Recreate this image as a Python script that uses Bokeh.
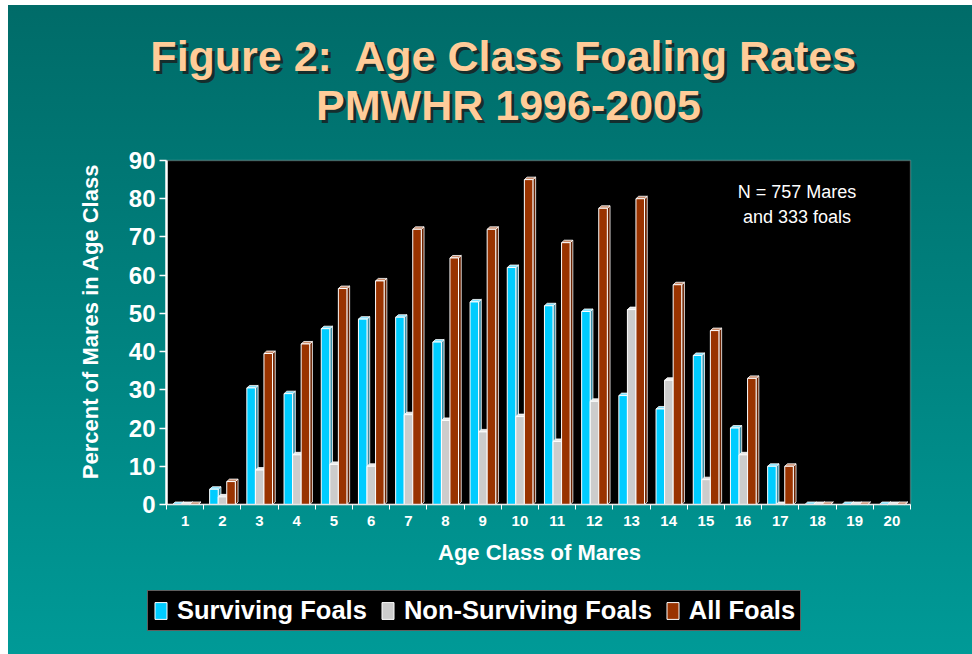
import math
import numpy as np
from bokeh.plotting import figure
from bokeh.models import (Label, Legend, LegendItem, FixedTicker, Range1d, BoxAnnotation)
from bokeh.embed import file_html
from bokeh.resources import INLINE

# ---------------- data ----------------
age_classes = list(range(1, 21))
tick_labels = [str(a) for a in age_classes]
surviving = [0, 4, 30.5, 29, 46, 48.5, 49, 42.5, 53, 62, 52, 50.5, 28.5, 25, 39, 20, 10, 0, 0, 0]
non_surviving = [0, 2, 9, 13, 10.5, 10, 23.5, 22, 19, 23, 16.5, 27, 51, 32.5, 6.5, 13, 0, 0, 0, 0]
all_foals = [0, 6, 39.5, 42, 56.5, 58.5, 72, 64.5, 72, 85, 68.5, 77.5, 80, 57.5, 45.5, 33, 10, 0, 0, 0]
series_names = ["Surviving Foals", "Non-Surviving Foals", "All Foals"]
y_ticks = list(range(0, 100, 10))
x_min, x_max = 0.5, 20.5
y_min, y_max = 0, 90

# ---------------- styles / layout ----------------
FONT = "Liberation Sans"
front_colors = ["#00ccff", "#cccccc", "#993300"]
side_colors = ["#3a8ea8", "#8a8a8a", "#6a2200"]
top_colors = ["#7fe3ff", "#e8e8e8", "#c98b6b"]
offsets = [-0.34, -0.11, 0.12]
W = 0.23     # front face width (x units)
DX = 0.073   # depth in x
DY = 0.65    # depth in y

FIG_W, FIG_H = 972, 654
# pixel box of the black plotting area inside the figure
PL, PR, PT, PB = 166, 910, 160, 504
sx = (PR - PL) / (x_max - x_min)
sy = (PB - PT) / (y_max - y_min)
xr = Range1d(x_min - PL / sx, x_max + (FIG_W - PR) / sx)
yr = Range1d(y_min - (FIG_H - PB) / sy, y_max + PT / sy)

p = figure(width=FIG_W, height=FIG_H, output_backend="svg", toolbar_location=None,
           x_range=xr, y_range=yr,
           min_border_left=0, min_border_right=0, min_border_top=0, min_border_bottom=0)
p.styles = {"background": "linear-gradient(#ffffff,#ffffff) 0 0/8px 100% no-repeat, "
                          "linear-gradient(#ffffff,#ffffff) 0 0/100% 5px no-repeat, "
                          "linear-gradient(to bottom, #006b68 0%, #00827f 50%, #009a97 100%)"}
p.border_fill_color = None
p.background_fill_color = None
p.outline_line_color = None
p.xgrid.visible = False
p.ygrid.visible = False

# black plot area
p.add_layout(BoxAnnotation(left=x_min, right=x_max, bottom=y_min, top=y_max, fill_color="black",
                           fill_alpha=1, line_color="#d0d0d0", line_width=1.5,
                           level="underlay"))

renderers = []
xs_base = np.array(age_classes, dtype=float)
for vals, off, cf, cs, ct in zip([surviving, non_surviving, all_foals], offsets,
                                 front_colors, side_colors, top_colors):
    v = np.array(vals, dtype=float)
    x0 = xs_base + off
    x1 = x0 + W
    side_xs = [[a, a + DX, a + DX, a] for a in x1]
    side_ys = [[0, DY, h + DY, h] for h in v]
    top_xs = [[a, a + DX, b + DX, b] for a, b in zip(x0, x1)]
    top_ys = [[h, h + DY, h + DY, h] for h in v]
    p.patches(side_xs, side_ys, fill_color=cs, line_color="white", line_width=0.8)
    p.patches(top_xs, top_ys, fill_color=ct, line_color="white", line_width=0.8)
    r = p.quad(left=x0, right=x1, bottom=0, top=v, fill_color=cf,
               line_color="white", line_width=1)
    renderers.append(r)

# ---------------- axes ----------------
xa = p.xaxis[0]
xa.fixed_location = y_min
xa.bounds = (x_min, x_max)
xa.ticker = FixedTicker(ticks=age_classes,
                        minor_ticks=[a + 0.5 for a in [0] + age_classes])
xa.major_label_overrides = {a: t for a, t in zip(age_classes, tick_labels)}
xa.major_tick_line_alpha = 0
xa.major_tick_out = 5
xa.major_tick_in = 0
xa.minor_tick_out = 5
xa.minor_tick_in = 0
xa.minor_tick_line_color = "white"
xa.axis_line_color = "#e8e8e8"
xa.axis_line_width = 1.5
xa.major_label_text_color = "white"
xa.major_label_text_font = FONT
xa.major_label_text_font_style = "bold"
xa.major_label_text_font_size = "15px"
xa.major_label_standoff = 6

ya = p.yaxis[0]
ya.fixed_location = x_min
ya.bounds = (y_min, y_max)
ya.ticker = FixedTicker(ticks=y_ticks)
ya.minor_tick_line_alpha = 0
ya.major_tick_out = 7
ya.major_tick_in = 0
ya.major_tick_line_color = "white"
ya.major_tick_line_width = 1.5
ya.axis_line_color = "white"
ya.axis_line_width = 2.5
ya.major_label_text_color = "white"
ya.major_label_text_font = FONT
ya.major_label_text_font_style = "bold"
ya.major_label_text_font_size = "24px"
ya.major_label_standoff = 4

p.add_layout(Label(x=539, y=FIG_H - 552, x_units="screen", y_units="screen",
                   text="Age Class of Mares", text_align="center", text_baseline="middle",
                   text_color="white", text_font=FONT, text_font_style="bold",
                   text_font_size="22px"))
p.add_layout(Label(x=90, y=FIG_H - 321, x_units="screen", y_units="screen",
                   text="Percent of Mares in Age Class", angle=math.pi / 2,
                   text_align="center", text_baseline="middle",
                   text_color="white", text_font=FONT, text_font_style="bold",
                   text_font_size="22px"))

# ---------------- annotations ----------------
p.add_layout(Label(x=17.45, y=84.5, text="N = 757 Mares\nand 333 foals",
                   text_align="center", text_baseline="top", text_color="white",
                   text_font=FONT, text_font_size="18px", text_line_height=1.25))

title_lines = ["Figure 2:\u00a0 Age Class Foaling Rates", "PMWHR 1996-2005"]
title_x = [503.5, 508]          # centre, px from left
title_base = [55, 104]          # px from top
for line, tx, tb in zip(title_lines, title_x, title_base):
    ty = FIG_H - tb
    p.add_layout(Label(x=tx + 3, y=ty - 3, x_units="screen", y_units="screen", text=line,
                       text_align="center", text_baseline="alphabetic",
                       text_color="#182222", text_alpha=0.85, text_font=FONT,
                       text_font_style="bold", text_font_size="43px"))
    p.add_layout(Label(x=tx, y=ty, x_units="screen", y_units="screen", text=line,
                       text_align="center", text_baseline="alphabetic",
                       text_color="#ffcc99", text_font=FONT,
                       text_font_style="bold", text_font_size="43px"))

legend = Legend(items=[LegendItem(label=n, renderers=[r]) for n, r in zip(series_names, renderers)],
                orientation="horizontal", location=(147, FIG_H - 631),
                background_fill_color="black", background_fill_alpha=1,
                border_line_color="#bbbbbb", border_line_width=1,
                label_text_color="white", label_text_font=FONT,
                label_text_font_style="bold", label_text_font_size="25.5px",
                glyph_width=15, glyph_height=21, label_standoff=9, spacing=13,
                padding=5, margin=0, label_height=26)
p.add_layout(legend, "center")

open("out.html", "w").write(file_html(p, INLINE))
